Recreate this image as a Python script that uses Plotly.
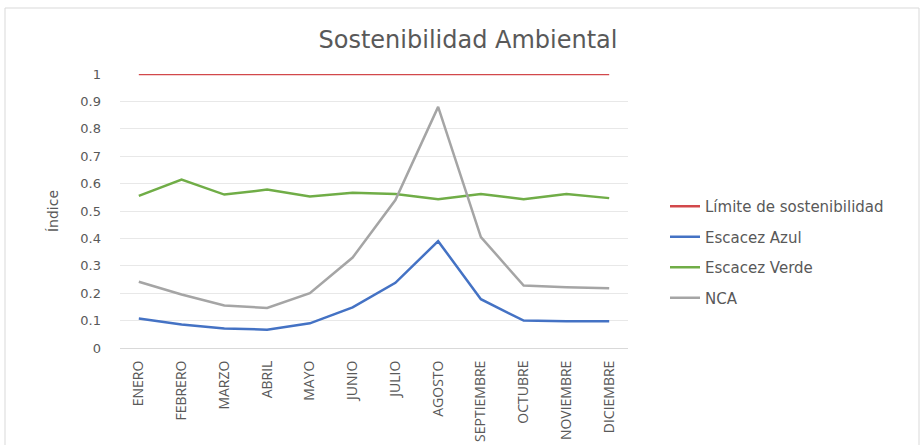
import plotly.graph_objects as go

meses = ["ENERO", "FEBRERO", "MARZO", "ABRIL", "MAYO", "JUNIO", "JULIO",
         "AGOSTO", "SEPTIEMBRE", "OCTUBRE", "NOVIEMBRE", "DICIEMBRE"]
limite = [1, 1, 1, 1, 1, 1, 1, 1, 1, 1, 1, 1]
escasez_azul = [0.108, 0.086, 0.071, 0.067, 0.090, 0.148, 0.238, 0.390, 0.178, 0.100, 0.098, 0.098]
escasez_verde = [0.555, 0.615, 0.560, 0.578, 0.553, 0.567, 0.562, 0.543, 0.562, 0.543, 0.562, 0.547]
nca = [0.242, 0.195, 0.155, 0.146, 0.200, 0.330, 0.540, 0.880, 0.405, 0.228, 0.222, 0.218]

series = [
    ("Límite de sostenibilidad", limite, "#D2484B"),
    ("Escacez Azul", escasez_azul, "#4472C4"),
    ("Escacez Verde", escasez_verde, "#70AD47"),
    ("NCA", nca, "#A5A5A5"),
]

fig = go.Figure()
for i, (name, vals, col) in enumerate(series):
    fig.add_trace(go.Scatter(
        x=meses, y=vals, mode="lines", name=name,
        line=dict(color=col, width=2.5), legendgroup=str(i),
        cliponaxis=False,
    ))

L, R, T, B = 120, 294, 74, 97
pw = 922 - L - R
ph = 445 - T - B

fig.update_layout(
    width=922, height=445,
    margin=dict(l=L, r=R, t=T, b=B, autoexpand=False),
    paper_bgcolor="white", plot_bgcolor="white",
    font=dict(family="DejaVu Sans, sans-serif", color="#595959", size=12),
    title=dict(text="Sostenibilidad Ambiental", x=468 / 922, xref="container",
               xanchor="center", y=1.0, yref="container", yanchor="top",
               pad=dict(t=31),
               font=dict(family="DejaVu Sans, sans-serif", size=24, color="#595959")),
    legend=dict(x=(665 - L) / pw, y=(445 - B - 252) / ph, xanchor="left", yanchor="middle",
                font=dict(family="DejaVu Sans, sans-serif", size=15, color="#595959"),
                tracegroupgap=8, bgcolor="rgba(0,0,0,0)"),
    showlegend=True,
)
fig.update_xaxes(
    type="category", range=[-0.44, 11.44], tickangle=-90, automargin=False,
    showgrid=False, showline=True, linecolor="#D9D9D9", linewidth=1,
    ticks="", ticklabelstandoff=6,
    tickfont=dict(family="Open Sans, sans-serif", size=14, color="#595959"),
)
fig.update_yaxes(
    range=[0, 1.0], dtick=0.1, tick0=0, showgrid=True, gridcolor="#E8E8E8",
    gridwidth=1, zeroline=False, ticks="", tickformat="~g", automargin=False,
    ticklabelstandoff=18,
    tickfont=dict(family="DejaVu Sans, sans-serif", size=13, color="#595959"),
    title=dict(text="Índice", font=dict(family="DejaVu Sans, sans-serif", size=14,
                                        color="#595959"), standoff=18),
)
fig.add_shape(type="rect", xref="paper", yref="paper",
              x0=(5 - L) / pw, x1=(919 - L) / pw,
              y0=(445 - B - 450) / ph, y1=(445 - B - 8) / ph,
              line=dict(color="#D9D9D9", width=1), fillcolor="rgba(0,0,0,0)",
              layer="below")

fig.write_html("out.html", config={"displayModeBar": False},
               post_script="document.body.style.margin='0';")
